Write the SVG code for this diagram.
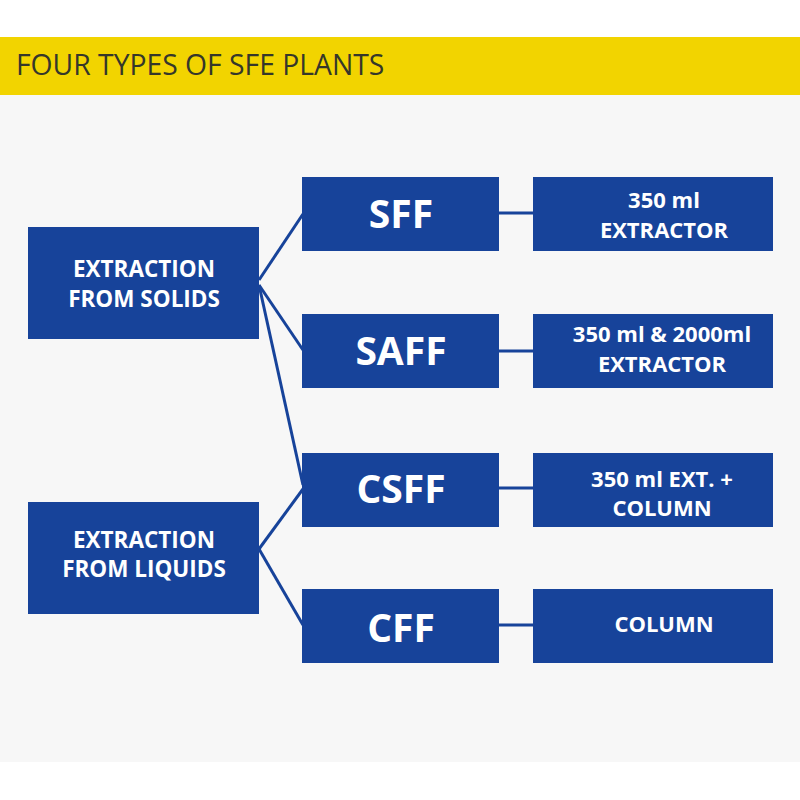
<svg xmlns="http://www.w3.org/2000/svg" width="800" height="800" viewBox="0 0 800 800">
<style>
.box{fill:#17439a}
.conn{stroke:#17439a;stroke-width:3;fill:none}
.t{font-family:"Open Sans","Noto Sans","Liberation Sans",sans-serif;font-weight:bold;fill:#ffffff;text-anchor:middle}
.l{font-size:22.5px}
.m{font-size:39px}
.r{font-size:22px}
</style>
<rect x="0" y="0" width="800" height="800" fill="#ffffff"/>
<rect x="0" y="95" width="800" height="667" fill="#f7f7f7"/>
<rect x="0" y="37" width="800" height="58" fill="#f2d400"/>
<text x="16" y="75" font-family="Open Sans,Noto Sans,Liberation Sans,sans-serif" font-size="28.3" fill="#35372a">FOUR TYPES OF SFE PLANTS</text>
<g id="connectors">
<line class="conn" x1="259" y1="280" x2="303" y2="214"/>
<line class="conn" x1="259" y1="285" x2="303" y2="350"/>
<line class="conn" x1="259" y1="285" x2="303" y2="485"/>
<line class="conn" x1="259" y1="549" x2="303" y2="489"/>
<line class="conn" x1="259" y1="549" x2="303" y2="625"/>
<line class="conn" x1="499" y1="213" x2="533" y2="213"/>
<line class="conn" x1="499" y1="351" x2="533" y2="351"/>
<line class="conn" x1="499" y1="488" x2="533" y2="488"/>
<line class="conn" x1="499" y1="625" x2="533" y2="625"/>
</g>
<g id="solids">
<rect class="box" x="28" y="227" width="231" height="112"/>
<text class="t l" x="144" y="277">EXTRACTION</text>
<text class="t l" x="144" y="307">FROM SOLIDS</text>
</g>
<g id="liquids">
<rect class="box" x="28" y="502" width="231" height="112"/>
<text class="t l" x="144" y="548">EXTRACTION</text>
<text class="t l" x="144" y="577">FROM LIQUIDS</text>
</g>
<g id="sff">
<rect class="box" x="302" y="177" width="197" height="74"/>
<text class="t m" x="401" y="228">SFF</text>
</g>
<g id="saff">
<rect class="box" x="302" y="314" width="197" height="74"/>
<text class="t m" x="401" y="365">SAFF</text>
</g>
<g id="csff">
<rect class="box" x="302" y="453" width="197" height="74"/>
<text class="t m" x="401" y="503">CSFF</text>
</g>
<g id="cff">
<rect class="box" x="302" y="589" width="197" height="74"/>
<text class="t m" x="401" y="642">CFF</text>
</g>
<g id="sff-ext">
<rect class="box" x="533" y="177" width="240" height="74"/>
<text class="t r" x="664" y="208">350 ml</text>
<text class="t r" x="664" y="238">EXTRACTOR</text>
</g>
<g id="saff-ext">
<rect class="box" x="533" y="314" width="240" height="74"/>
<text class="t r" x="662" y="342">350 ml &amp; 2000ml</text>
<text class="t r" x="662" y="372">EXTRACTOR</text>
</g>
<g id="csff-ext">
<rect class="box" x="533" y="453" width="240" height="74"/>
<text class="t r" x="662" y="487">350 ml EXT. +</text>
<text class="t r" x="662" y="516">COLUMN</text>
</g>
<g id="cff-ext">
<rect class="box" x="533" y="589" width="240" height="74"/>
<text class="t r" x="664" y="632">COLUMN</text>
</g>
</svg>
